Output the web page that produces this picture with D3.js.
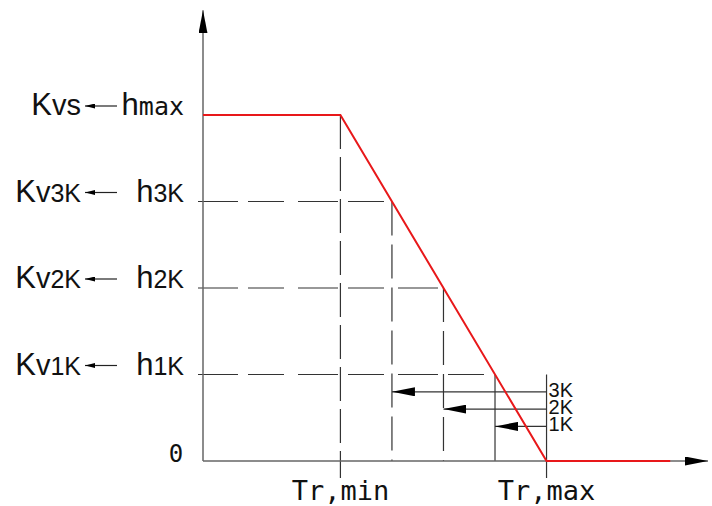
<!DOCTYPE html>
<html>
<head>
<meta charset="utf-8">
<script src="https://cdn.jsdelivr.net/npm/d3@7"></script>
<style>
  body { margin: 0; background: #fff; }
  svg { display: block; }
</style>
</head>
<body>
<div id="container"></div>
<script>
// levels on the vertical axis (top to bottom)
var levelValues = [4, 3, 2, 1];
var levelH = ["max", "3K", "2K", "1K"];       // subscript after "h"
var levelK = ["vs", "v3K", "v2K", "v1K"];     // text after "K"

// characteristic curve (t, h)
var curveT = [0, 2, 5, 6.8];
var curveH = [4, 4, 0, 0];
var trMin = 2, trMax = 5;

// arrows from Tr,max back to the intersections
var arrowNames = ["3K", "2K", "1K"];
var arrowLevels = [0.8, 0.6, 0.4];

var width = 712, height = 506;

var x = d3.scaleLinear().domain([0, 7.35]).range([203, 708]);
var y = d3.scaleLinear().domain([0, 4]).range([461, 115]);

var svg = d3.select("#container").append("svg")
    .attr("width", width)
    .attr("height", height);

// arrow heads, tip at the end of the path
var defs = svg.append("defs");
defs.append("marker")
    .attr("id", "head")
    .attr("viewBox", "0 0 23 9")
    .attr("refX", 23).attr("refY", 4.5)
    .attr("markerWidth", 23).attr("markerHeight", 9)
    .attr("markerUnits", "userSpaceOnUse")
    .attr("orient", "auto-start-reverse")
    .append("path").attr("d", "M0,0 L23,4.5 L0,9 Z").attr("fill", "#000");
defs.append("marker")
    .attr("id", "small")
    .attr("viewBox", "0 0 10 5")
    .attr("refX", 10).attr("refY", 2.5)
    .attr("markerWidth", 10).attr("markerHeight", 5)
    .attr("markerUnits", "userSpaceOnUse")
    .attr("orient", "auto-start-reverse")
    .append("path").attr("d", "M0,0 L10,2.5 L0,5 Z").attr("fill", "#000");

// t where the falling part of the curve reaches level h
function tAt(h) {
    return trMin + (4 - h) / 4 * (trMax - trMin);
}

var grid = svg.append("g").attr("stroke", "#333").attr("stroke-width", 1.2).attr("fill", "none");

// dashed horizontals from the axis to the curve
levelValues.slice(1).forEach(function (v) {
    grid.append("line")
        .attr("x1", x(0) - 5).attr("x2", x(tAt(v)))
        .attr("y1", y(v)).attr("y2", y(v))
        .attr("stroke-dasharray", "40,10,36,14");
});

// verticals from the curve down to the axis
levelValues.slice(1).forEach(function (v) {
    var l = grid.append("line")
        .attr("x1", x(tAt(v))).attr("x2", x(tAt(v)))
        .attr("y1", y(v)).attr("y2", y(0));
    if (v > 1) l.attr("stroke-dasharray", "34,9");
});

// Tr,min and Tr,max lines
grid.append("line")
    .attr("x1", x(trMin)).attr("x2", x(trMin))
    .attr("y1", y(4)).attr("y2", y(0) + 17)
    .attr("stroke-dasharray", "34,8");
grid.append("line")
    .attr("x1", x(trMax)).attr("x2", x(trMax))
    .attr("y1", y(1)).attr("y2", y(0) + 17);

// arrows 3K, 2K, 1K
arrowLevels.forEach(function (a, i) {
    var target = levelValues[i + 1];
    svg.append("line")
        .attr("x1", x(tAt(target))).attr("x2", x(trMax))
        .attr("y1", y(a)).attr("y2", y(a))
        .attr("stroke", "#333").attr("stroke-width", 1.2)
        .attr("marker-start", "url(#head)");
    svg.append("text")
        .attr("x", x(trMax) + 2)
        .attr("y", y(a) + 5)
        .attr("font-family", "Liberation Sans, Arial, sans-serif")
        .attr("font-size", 20)
        .attr("fill", "#111")
        .text(arrowNames[i]);
});

// axes
svg.append("line")
    .attr("x1", x(0)).attr("x2", x(0))
    .attr("y1", y(0)).attr("y2", y(5.21))
    .attr("stroke", "#666").attr("stroke-width", 1.5)
    .attr("marker-end", "url(#head)");
svg.append("line")
    .attr("x1", x(0)).attr("x2", x(7.35))
    .attr("y1", y(0)).attr("y2", y(0))
    .attr("stroke", "#666").attr("stroke-width", 1.5)
    .attr("marker-end", "url(#head)");

// curve
var curve = curveT.map(function (t, i) { return { t: t, h: curveH[i] }; });
svg.append("path")
    .datum(curve)
    .attr("fill", "none")
    .attr("stroke", "#e8181a")
    .attr("stroke-width", 2)
    .attr("d", d3.line().x(function (d) { return x(d.t); }).y(function (d) { return y(d.h); }));

// level labels
var sans = "Liberation Sans, Arial, sans-serif";
var mono = "DejaVu Sans Mono, monospace";
levelValues.forEach(function (v, i) {
    var kt = svg.append("text")
        .attr("x", 81).attr("y", y(v))
        .attr("text-anchor", "end")
        .attr("font-family", sans)
        .attr("fill", "#111");
    kt.append("tspan").attr("font-size", 31).text("K");
    var rest = levelK[i];
    if (rest === "vs") {
        kt.append("tspan").attr("font-size", 29).text("vs");
    } else {
        kt.append("tspan").attr("font-size", 29).text("v");
        kt.append("tspan").attr("font-size", 25).text(rest.slice(1));
    }

    svg.append("line")
        .attr("x1", 85).attr("x2", 117)
        .attr("y1", y(v) - 9).attr("y2", y(v) - 9)
        .attr("stroke", "#222").attr("stroke-width", 1.2)
        .attr("marker-start", "url(#small)");

    var ht = svg.append("text")
        .attr("x", 184).attr("y", y(v))
        .attr("text-anchor", "end")
        .attr("fill", "#111");
    ht.append("tspan").attr("font-family", sans).attr("font-size", 31).text("h");
    if (levelH[i] === "max") {
        ht.append("tspan").attr("font-family", mono).attr("font-size", 25).text("max");
    } else {
        ht.append("tspan").attr("font-family", sans).attr("font-size", 25).text(levelH[i]);
    }
});

svg.append("text")
    .attr("x", 176).attr("y", y(0) + 1)
    .attr("text-anchor", "middle")
    .attr("font-family", mono)
    .attr("font-size", 24)
    .attr("fill", "#111")
    .text("0");

// Tr labels
[["Tr,min", trMin], ["Tr,max", trMax]].forEach(function (d) {
    svg.append("text")
        .attr("x", x(d[1])).attr("y", 500)
        .attr("text-anchor", "middle")
        .attr("font-family", mono)
        .attr("font-size", 27)
        .attr("fill", "#111")
        .text(d[0]);
});
</script>
</body>
</html>
